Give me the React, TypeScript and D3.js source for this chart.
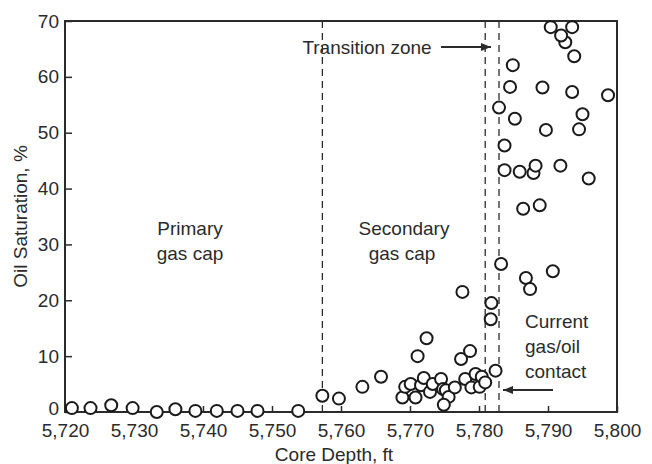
import React, { useEffect, useRef } from 'react'
import * as d3 from 'd3'

// core samples
const depths = [
  5721.0, 5723.7, 5726.7, 5729.8, 5733.3, 5736.0, 5738.9, 5742.0, 5745.0, 5747.9,
  5753.8, 5757.3, 5759.7, 5763.1, 5765.8, 5768.9, 5769.3, 5770.1, 5770.8, 5771.1,
  5771.6, 5772.0, 5772.4, 5772.9, 5773.3, 5774.5, 5774.8, 5775.2, 5775.6, 5774.9,
  5776.5, 5777.6, 5777.4, 5778.7, 5778.0, 5778.9, 5779.5, 5780.1, 5780.4, 5780.9,
  5781.8, 5781.7, 5782.4, 5783.2, 5786.8, 5790.7, 5787.4, 5786.4, 5788.8, 5783.7,
  5785.9, 5787.9, 5788.2, 5791.8, 5795.9, 5783.7, 5782.9, 5785.2, 5795.0, 5789.7,
  5794.5, 5784.5, 5789.2, 5793.5, 5798.7, 5784.9, 5793.8, 5792.5, 5791.9, 5790.4,
  5793.5,
]
const saturation = [
  0.7, 0.7, 1.2, 0.7, 0.0, 0.5, 0.2, 0.2, 0.2, 0.2,
  0.2, 2.9, 2.4, 4.5, 6.3, 2.6, 4.5, 5.0, 2.6, 10.0,
  4.8, 6.1, 13.2, 3.6, 5.0, 5.9, 4.1, 3.9, 2.7, 1.3,
  4.4, 21.5, 9.5, 10.9, 5.9, 4.4, 6.8, 4.5, 6.3, 5.3,
  19.5, 16.6, 7.4, 26.5, 24.0, 25.2, 22.0, 36.4, 37.0, 43.3,
  43.0, 42.8, 44.1, 44.1, 41.8, 47.7, 54.5, 52.5, 53.3, 50.5,
  50.6, 58.2, 58.1, 57.3, 56.7, 62.1, 63.7, 66.2, 67.4, 68.9,
  68.9,
]

const xTicks = [5720, 5730, 5740, 5750, 5760, 5770, 5780, 5790, 5800]
const yTicks = [0, 10, 20, 30, 40, 50, 60, 70]
// zone boundaries (ft)
const boundaries = [5757.3, 5780.9, 5782.9]

const W = 652
const H = 464
const margin = { top: 21, right: 35, bottom: 52, left: 65 }
const ink = '#2b2b2b'
const font = 'Liberation Sans, Arial, Helvetica, sans-serif'

const App = () => {
  const ref = useRef<SVGSVGElement>(null)

  useEffect(() => {
    const svg = d3.select(ref.current)
    svg.selectAll('*').remove()

    const x = d3.scaleLinear().domain([5720, 5800]).range([margin.left, W - margin.right])
    const y = d3.scaleLinear().domain([0, 70]).range([H - margin.bottom, margin.top])

    const g = svg.append('g').attr('font-family', font).attr('fill', ink)

    // frame
    g.append('rect')
      .attr('x', x(5720)).attr('y', y(70))
      .attr('width', x(5800) - x(5720)).attr('height', y(0) - y(70))
      .attr('fill', 'none').attr('stroke', ink).attr('stroke-width', 2)

    // x axis, ticks pointing in
    const xa = g.append('g').attr('transform', `translate(0,${y(0)})`)
      .call(d3.axisBottom(x).tickValues(xTicks).tickSize(-6).tickPadding(12)
        .tickFormat(d => d3.format(',')(d as number)))
    xa.select('.domain').remove()
    xa.selectAll('line').attr('stroke', ink).attr('stroke-width', 1.5)
    xa.selectAll('text').attr('font-size', 19).attr('font-family', font).attr('fill', ink)

    const ya = g.append('g').attr('transform', `translate(${x(5720)},0)`)
      .call(d3.axisLeft(y).tickValues(yTicks).tickSize(-7).tickPadding(6))
    ya.select('.domain').remove()
    ya.selectAll('line').attr('stroke', ink).attr('stroke-width', 1.5)
    ya.selectAll('text').attr('font-size', 19).attr('font-family', font).attr('fill', ink)
      .attr('y', d => (d === 0 ? -4 : 0))

    // zone lines
    g.selectAll('line.zone').data(boundaries).enter().append('line')
      .attr('class', 'zone')
      .attr('x1', d => x(d)).attr('x2', d => x(d))
      .attr('y1', y(70)).attr('y2', y(0))
      .attr('stroke', ink).attr('stroke-width', 1.3).attr('stroke-dasharray', '7,5')

    // points
    g.selectAll('circle').data(depths).enter().append('circle')
      .attr('cx', d => x(d))
      .attr('cy', (_, i) => y(saturation[i]))
      .attr('r', 6)
      .attr('fill', 'white').attr('stroke', '#1a1a1a').attr('stroke-width', 2)

    // arrowhead
    svg.append('defs').append('marker')
      .attr('id', 'arr').attr('viewBox', '0 0 10 10').attr('refX', 10).attr('refY', 5)
      .attr('markerWidth', 10).attr('markerHeight', 10).attr('markerUnits', 'userSpaceOnUse')
      .attr('orient', 'auto')
      .append('path').attr('d', 'M0,1 L10,5 L0,9 Z').attr('fill', ink)

    // annotations
    const txt = (tx: number, ty: number, s: string, anchor = 'middle') =>
      g.append('text').attr('x', tx).attr('y', ty).attr('text-anchor', anchor)
        .attr('font-size', 19).text(s)

    txt(190, 235, 'Primary')
    txt(190, 260, 'gas cap')
    txt(404, 235, 'Secondary')
    txt(402, 260, 'gas cap')
    txt(367, 54, 'Transition zone')
    g.append('line').attr('x1', 441).attr('x2', 491).attr('y1', 47).attr('y2', 47)
      .attr('stroke', ink).attr('stroke-width', 2).attr('marker-end', 'url(#arr)')

    txt(525, 328, 'Current', 'start')
    txt(525, 353, 'gas/oil', 'start')
    txt(525, 378, 'contact', 'start')
    g.append('line').attr('x1', 553).attr('x2', 503).attr('y1', 390).attr('y2', 390)
      .attr('stroke', ink).attr('stroke-width', 2).attr('marker-end', 'url(#arr)')

    // axis titles
    txt(334, 461, 'Core Depth, ft')
    g.append('text')
      .attr('transform', `translate(27,${(y(0) + y(70)) / 2}) rotate(-90)`)
      .attr('text-anchor', 'middle').attr('font-size', 19)
      .text('Oil Saturation, %')
  }, [])

  return (
    <svg ref={ref} width={W} height={H}
      style={{ position: 'absolute', left: 0, top: 0, background: 'white' }} />
  )
}

export default App
